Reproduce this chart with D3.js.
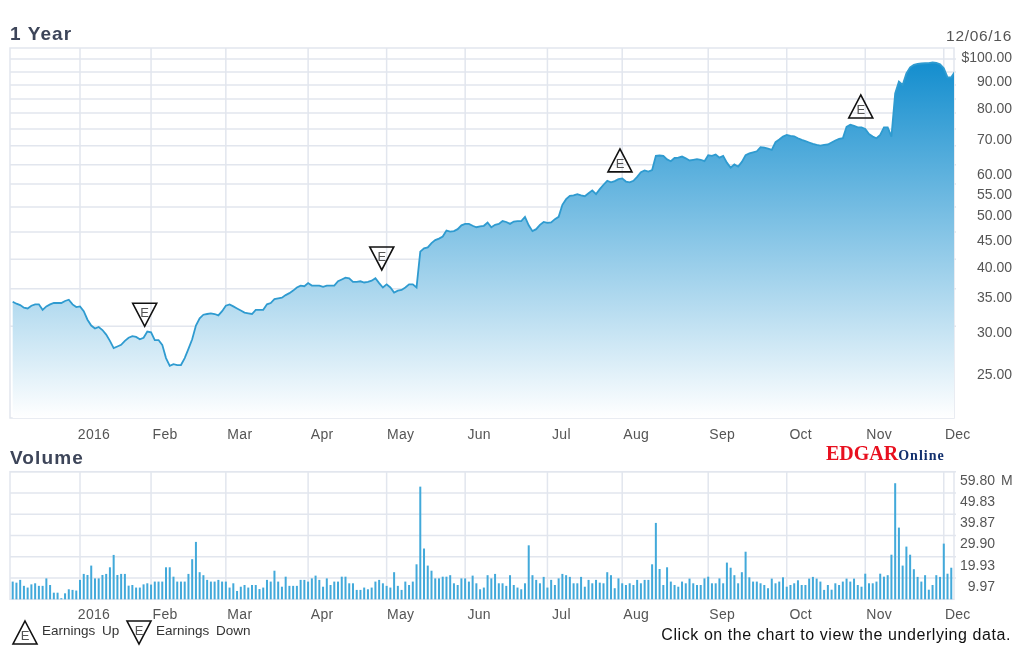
<!DOCTYPE html>
<html>
<head>
<meta charset="utf-8">
<script src="https://cdn.jsdelivr.net/npm/d3@7/dist/d3.min.js"></script>
<style>
  html, body { margin: 0; background: #fff; }
  text { font-family: "Liberation Sans", Arial, sans-serif; }
  #chart { display: block; filter: blur(0.3px); }
</style>
</head>
<body>
<svg id="chart" width="1020" height="664"></svg>
<script>
// trading day index 0 = 12/07/15, one value per session
const closes = [
  34.3,34.0,33.8,33.4,33.3,33.7,33.9,33.9,33.1,33.6,33.9,34.1,34.1,34.1,34.4,34.6,33.9,33.5,33.6,32.9,
  31.7,30.9,30.5,30.7,30.3,29.7,28.9,28.0,28.2,28.4,28.9,29.3,29.5,29.4,29.1,29.3,30.1,30.0,29.0,29.0,
  28.4,26.8,25.9,26.1,26.0,26.0,26.8,27.9,29.1,30.9,31.9,32.4,32.5,32.6,32.5,32.3,32.9,33.7,33.9,33.6,
  33.3,33.0,32.7,32.6,32.5,33.1,33.1,33.1,33.9,34.1,34.7,34.8,34.9,35.3,35.6,36.0,36.5,36.8,36.7,37.2,
  36.8,36.8,36.8,36.6,36.8,36.8,36.8,37.5,37.8,38.1,38.0,37.4,37.4,37.5,37.3,37.4,37.6,38.0,37.2,36.5,
  37.0,36.5,35.7,36.0,36.1,36.5,37.0,37.0,36.5,42.7,43.3,43.5,44.3,44.9,45.2,45.6,46.8,46.6,46.7,47.1,
  47.9,48.2,48.2,47.8,47.5,47.7,47.8,48.5,47.5,48.0,48.2,48.8,48.6,48.2,48.7,48.8,48.8,49.7,47.9,46.7,
  47.1,48.0,48.6,48.4,48.5,49.2,49.7,52.4,53.7,54.5,54.6,54.9,54.6,54.4,55.1,55.8,54.9,56.1,57.2,58.2,
  57.8,58.1,58.6,58.8,58.0,57.8,58.2,59.2,60.4,60.9,60.6,61.0,64.9,65.0,64.9,63.9,63.4,64.3,64.4,64.7,
  64.2,63.6,63.8,64.0,63.8,63.4,65.1,64.9,65.3,64.4,64.9,63.0,61.6,62.5,61.9,63.2,65.1,65.6,65.9,66.2,
  67.4,67.3,67.0,66.6,68.9,69.7,70.6,71.1,70.8,70.7,70.1,69.6,69.2,68.8,68.4,68.1,67.9,68.1,68.2,68.8,
  69.4,69.9,70.1,73.7,74.4,74.0,73.5,73.5,73.0,71.4,70.6,70.1,71.1,73.5,73.5,70.6,85.3,89.8,88.5,93.1,
  95.6,96.6,97.0,97.2,97.3,97.4,97.7,97.5,96.9,95.2,91.5,91.5,93.8
];

// millions of shares
const volumes = [
  8.3,7.8,9.1,6.3,5.5,7.0,7.5,6.3,6.3,9.8,6.7,3.1,3.1,0.5,2.8,4.7,4.4,4.1,9.1,11.9,
  11.4,15.8,9.8,9.8,11.4,11.9,15.0,20.8,11.4,11.9,11.9,6.4,6.7,5.5,5.5,7.0,7.5,6.9,8.3,8.3,
  8.3,15.0,15.0,10.6,8.3,8.3,8.3,11.9,18.8,26.9,12.7,11.3,9.1,8.3,8.3,9.1,8.3,8.3,5.5,7.5,
  3.9,5.9,6.7,5.5,6.7,6.7,4.8,5.5,9.1,8.3,13.4,8.3,5.9,10.6,6.3,6.3,6.3,9.1,9.1,8.3,
  9.8,11.1,9.1,5.9,9.8,6.7,8.3,8.3,10.6,10.6,7.5,7.5,4.4,4.4,5.5,4.7,5.5,8.3,9.1,7.5,
  6.3,5.5,12.7,6.3,4.4,8.3,6.7,8.3,16.4,52.8,23.8,15.8,13.4,9.8,9.8,10.6,10.6,11.3,7.5,6.7,
  9.8,9.8,8.3,11.1,7.5,4.7,5.5,11.3,9.8,11.9,7.5,7.5,6.3,11.3,6.7,5.5,4.7,7.5,25.3,11.3,
  9.1,7.5,10.5,5.5,9.1,6.7,9.8,11.9,11.3,10.5,7.5,7.5,10.5,5.9,9.1,7.5,9.1,7.8,7.5,12.7,
  11.3,5.2,9.8,7.5,6.7,7.5,6.7,9.1,7.5,9.1,9.1,16.4,35.8,14.2,6.7,15.0,8.3,6.7,5.9,8.3,
  7.5,9.7,7.5,6.7,6.7,9.8,10.6,7.5,7.5,9.8,7.5,17.2,14.8,11.3,7.5,12.7,22.3,10.3,8.3,8.3,
  7.5,6.7,5.2,9.7,7.5,8.3,10.3,5.9,6.7,7.5,8.9,6.7,6.7,9.7,10.5,9.7,8.3,4.4,6.7,4.5,
  7.5,6.7,8.3,9.7,8.3,9.7,6.7,5.9,12.0,7.5,7.5,8.3,12.0,10.6,11.3,20.9,54.4,33.6,15.8,24.7,
  20.9,14.1,10.5,8.3,11.3,4.5,6.7,11.3,10.5,26.1,12.0,14.8
];

const monthLabels = ['2016','Feb','Mar','Apr','May','Jun','Jul','Aug','Sep','Oct','Nov','Dec'];
const monthIndex = [18,37,57,79,100,121,143,163,186,207,228,249];

const priceTicks = [100,90,80,70,60,55,50,45,40,35,30,25];
const priceGrid = [99.1,93.6,88.5,83.2,78.3,73,67.8,62.4,57.4,51.9,46.5,41.3,36.3,30.8];
const volumeTicks = [59.80,49.83,39.87,29.90,19.93,9.97];

const earningsIndex = [35.3,98.7,162.4,226.8];
const earningsPrice = [30.8,39.4,60.5,76.6];
const earningsType = ['down','down','up','up'];

const left = 10, right = 954;
const priceTop = 48, priceBottom = 418;
const volTop = 471.7, volBottom = 599.3;
const gridColor = '#e2e6ee';
const labelColor = '#555';

const xScale = d3.scaleLinear().domain([0, 252]).range([12.7, 955]);
const yPrice = d3.scaleLog().domain([25, 100]).range([374, 57]);
const yVol = d3.scaleLinear().domain([0, 59.8]).range([volBottom, volTop]);

const svg = d3.select('#chart');

const defs = svg.append('defs');
const grad = defs.append('linearGradient')
  .attr('id', 'priceFill')
  .attr('gradientUnits', 'userSpaceOnUse')
  .attr('x1', 0).attr('x2', 0)
  .attr('y1', 60).attr('y2', priceBottom);
grad.append('stop').attr('offset', 0).attr('stop-color', '#128dce');
grad.append('stop').attr('offset', 1).attr('stop-color', '#ffffff');
defs.append('clipPath').attr('id', 'plotClip')
  .append('rect')
  .attr('x', left).attr('y', priceTop)
  .attr('width', right - left).attr('height', priceBottom - priceTop);

function drawFrame(top, bottom, hValues, yScale) {
  const g = svg.append('g')
    .attr('stroke', gridColor)
    .attr('stroke-width', 1.5)
    .attr('fill', 'none');
  g.selectAll('.h').data(hValues).enter().append('line')
    .attr('x1', left).attr('x2', right + 2)
    .attr('y1', d => yScale(d)).attr('y2', d => yScale(d));
  g.selectAll('.v').data(monthIndex).enter().append('line')
    .attr('x1', d => xScale(d)).attr('x2', d => xScale(d))
    .attr('y1', top).attr('y2', bottom);
  g.append('rect')
    .attr('x', left).attr('y', top)
    .attr('width', right - left).attr('height', bottom - top);
}

function drawMonths(y) {
  svg.append('g').selectAll('text').data(monthLabels).enter().append('text')
    .attr('x', (d, i) => xScale(monthIndex[i]) + 14)
    .attr('y', y)
    .attr('text-anchor', 'middle')
    .attr('font-size', 14)
    .attr('letter-spacing', 0.3)
    .attr('fill', labelColor)
    .text(d => d);
}

drawFrame(priceTop, priceBottom, priceGrid, yPrice);
drawFrame(volTop, volBottom, volumeTicks, yVol);

// price area and line
const area = d3.area()
  .x((d, i) => xScale(i))
  .y0(priceBottom)
  .y1(d => yPrice(d));
const line = d3.line()
  .x((d, i) => xScale(i))
  .y(d => yPrice(d));

const plot = svg.append('g').attr('clip-path', 'url(#plotClip)');
plot.append('path').datum(closes)
  .attr('d', area)
  .attr('fill', 'url(#priceFill)');
plot.append('path').datum(closes)
  .attr('d', line)
  .attr('fill', 'none')
  .attr('stroke', '#2f9bd0')
  .attr('stroke-width', 1.8);

// volume bars
svg.append('g').selectAll('rect').data(volumes).enter().append('rect')
  .attr('x', (d, i) => xScale(i) - 1)
  .attr('y', d => yVol(d))
  .attr('width', 2)
  .attr('height', d => yVol(0) - yVol(d))
  .attr('fill', '#42a9da');

// right hand axes, labels only
const priceAxis = d3.axisRight(yPrice)
  .tickValues(priceTicks)
  .tickSize(0)
  .tickFormat(d => (d === 100 ? '$' : '') + d3.format('.2f')(d));
const priceAxisG = svg.append('g').attr('transform', `translate(${right},0)`).call(priceAxis);
priceAxisG.select('.domain').remove();
priceAxisG.selectAll('text')
  .attr('x', 58)
  .attr('text-anchor', 'end')
  .attr('font-size', 14)
  .attr('fill', labelColor)
  .style('font-family', '"Liberation Sans", Arial, sans-serif');

const volAxis = d3.axisRight(yVol)
  .tickValues(volumeTicks)
  .tickSize(0)
  .tickFormat(d3.format('.2f'));
const volAxisG = svg.append('g').attr('transform', `translate(${right},8)`).call(volAxis);
volAxisG.select('.domain').remove();
volAxisG.selectAll('text')
  .attr('x', 41)
  .attr('text-anchor', 'end')
  .attr('font-size', 14)
  .attr('fill', labelColor)
  .style('font-family', '"Liberation Sans", Arial, sans-serif');
svg.append('text')
  .attr('x', 1001).attr('y', 485)
  .attr('font-size', 14).attr('fill', labelColor)
  .text('M');

drawMonths(439);
drawMonths(619);

// earnings markers, anchored on the flat/pointed end nearest the line
function earningsMark(g, type) {
  const path = type === 'up'
    ? 'M0,-23L12,0L-12,0Z'
    : 'M-12,-23L12,-23L0,0Z';
  g.append('path')
    .attr('d', path)
    .attr('fill', 'none')
    .attr('stroke', '#111')
    .attr('stroke-width', 1.6);
  g.append('text')
    .attr('x', 0)
    .attr('y', type === 'up' ? -4 : -9)
    .attr('text-anchor', 'middle')
    .attr('font-size', 13)
    .attr('fill', '#555')
    .text('E');
}

earningsIndex.forEach((d, i) => {
  const g = svg.append('g')
    .attr('transform', `translate(${xScale(d)},${yPrice(earningsPrice[i])})`);
  earningsMark(g, earningsType[i]);
});

// titles
svg.append('text').attr('x', 10).attr('y', 40)
  .attr('font-size', 19).attr('font-weight', 'bold')
  .attr('fill', '#3d4559').attr('letter-spacing', 1.1)
  .text('1 Year');
svg.append('text').attr('x', 10).attr('y', 464)
  .attr('font-size', 19).attr('font-weight', 'bold')
  .attr('fill', '#3d4559').attr('letter-spacing', 1.1)
  .text('Volume');
svg.append('text').attr('x', 1012).attr('y', 41)
  .attr('text-anchor', 'end')
  .attr('font-size', 15.5).attr('fill', labelColor)
  .attr('letter-spacing', 0.7)
  .text('12/06/16');

// EDGAR Online logo
const logo = svg.append('text').attr('x', 826).attr('y', 460)
  .style('font-family', '"Liberation Serif", serif')
  .attr('font-weight', 'bold');
logo.append('tspan').attr('font-size', 20).attr('fill', '#e8101f').text('EDGAR');
logo.append('tspan').attr('font-size', 14).attr('fill', '#12306e')
  .attr('letter-spacing', 1).text('Online');

// legend
const legendUp = svg.append('g').attr('transform', 'translate(25,644)');
earningsMark(legendUp, 'up');
const legendDown = svg.append('g').attr('transform', 'translate(139,644)');
earningsMark(legendDown, 'down');
svg.append('text').attr('x', 42).attr('y', 635)
  .attr('font-size', 13.5).attr('fill', '#333').attr('word-spacing', 3)
  .text('Earnings Up');
svg.append('text').attr('x', 156).attr('y', 635)
  .attr('font-size', 13.5).attr('fill', '#333').attr('word-spacing', 3)
  .text('Earnings Down');
svg.append('text').attr('x', 1011).attr('y', 640)
  .attr('text-anchor', 'end')
  .attr('font-size', 16).attr('fill', '#111')
  .attr('letter-spacing', 0.57)
  .text('Click on the chart to view the underlying data.');
</script>
</body>
</html>
